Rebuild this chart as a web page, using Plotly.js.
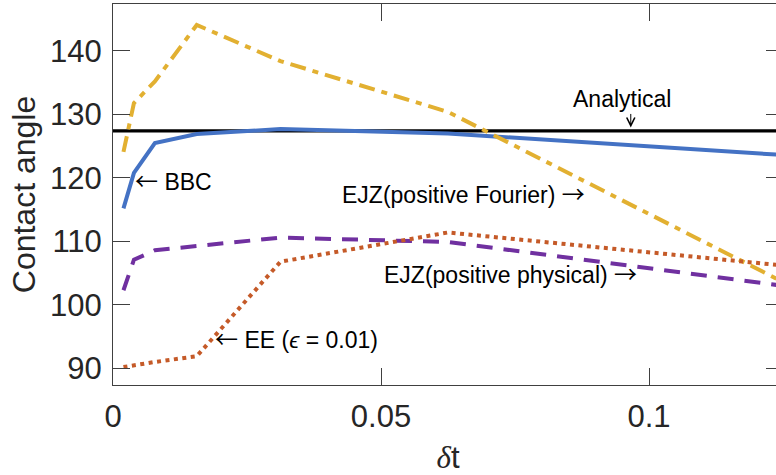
<!DOCTYPE html>
<html>
<head>
<meta charset="utf-8">
<script src="https://cdn.plot.ly/plotly-3.0.1.min.js"></script>
<style>
  html, body { margin: 0; padding: 0; overflow: hidden; background: #fff; }
  #chart { width: 790px; height: 475px; }
</style>
</head>
<body>
<div id="chart"></div>
<script>
// Time step sizes (halved each refinement)
const dt = [0.001953125, 0.00390625, 0.0078125, 0.015625, 0.03125, 0.0625, 0.125];

// Contact angle (degrees) for each scheme
const bbc         = [115.2, 120.8, 125.5, 126.9, 127.7, 127.0, 123.6];
const ejzFourier  = [124.1, 131.8, 135.2, 144.1, 138.4, 130.4, 103.6];
const ejzPhysical = [102.3, 107.1, 108.6, 109.3, 110.6, 109.9, 103.0];
const ee          = [90.2, 90.5, 91.0, 91.9, 106.8, 111.4, 106.2];

// Analytical reference angle, drawn across the whole dt range
const analyticalX = [0, 0.125];
const analyticalY = [127.4, 127.4];

const xTicks = [0, 0.05, 0.1];
const xTickText = ['0', '0.05', '0.1'];
const yTicks = [90, 100, 110, 120, 130, 140];
const yTickText = ['90', '100', '110', '120', '130', '140'];

const FONT = 'Liberation Sans, Arial, Helvetica, sans-serif';
const ARROW_FONT = "Noto Sans CJK JP, DejaVu Sans, sans-serif";
const AXIS_GREY = '#404040';
const TEXT_GREY = '#262626';

const traces = [
  { x: analyticalX, y: analyticalY, mode: 'lines', name: 'Analytical',
    line: { color: '#000000', width: 3.2 } },
  { x: dt, y: bbc, mode: 'lines', name: 'BBC',
    line: { color: '#4472C4', width: 4 } },
  { x: dt, y: ejzFourier, mode: 'lines', name: 'EJZ(positive Fourier)',
    line: { color: '#E2B031', width: 4, dash: '16px,7px,6px,7px' } },
  { x: dt, y: ejzPhysical, mode: 'lines', name: 'EJZ(positive physical)',
    line: { color: '#7030A0', width: 4, dash: '16px,11px' } },
  { x: dt, y: ee, mode: 'lines', name: 'EE',
    line: { color: '#C55A28', width: 4, dash: '4px,4.5px' } }
];

// thin arrow glyphs for the curve labels
function arrow(ch) {
  return '<span style="font-family:' + ARROW_FONT + '">' + ch + '</span>';
}

const noteFont = { family: FONT, size: 23, color: '#000000' };
function note(text, x, y, xanchor) {
  return { text: text, x: x, y: y, xref: 'paper', yref: 'paper',
           xanchor: xanchor, yanchor: 'middle', showarrow: false, font: noteFont };
}

const layout = {
  width: 790,
  height: 475,
  margin: { l: 113, r: 7, t: 4, b: 90 },
  paper_bgcolor: '#ffffff',
  plot_bgcolor: '#ffffff',
  showlegend: false,
  font: { family: FONT, color: TEXT_GREY },
  xaxis: {
    range: [0, 0.125],
    tickvals: xTicks, ticktext: xTickText,
    ticks: 'inside', ticklen: 17, tickwidth: 1, tickcolor: AXIS_GREY,
    showline: true, linecolor: AXIS_GREY, linewidth: 1, mirror: 'ticks',
    showgrid: false, zeroline: false,
    tickfont: { family: FONT, size: 31, color: TEXT_GREY },
    ticklabelstandoff: 4,
    title: { text: '<span style="font-family:Liberation Serif, serif"><i>δ</i></span>t',
             font: { family: FONT, size: 31, color: TEXT_GREY }, standoff: 19 }
  },
  yaxis: {
    range: [87.37, 147.4],
    tickvals: yTicks, ticktext: yTickText,
    ticks: 'inside', ticklen: 17, tickwidth: 1, tickcolor: AXIS_GREY,
    showline: true, linecolor: AXIS_GREY, linewidth: 1, mirror: 'ticks',
    showgrid: false, zeroline: false,
    tickfont: { family: FONT, size: 31, color: TEXT_GREY },
    ticklabelstandoff: 4,
    title: { text: 'Contact angle', font: { family: FONT, size: 32, color: TEXT_GREY }, standoff: 4 }
  },
  annotations: [
    note('Analytical', 0.7593, 0.7514, 'center'),
    // pointer from the "Analytical" label down to its line
    { text: '', x: 0.0966, y: analyticalY[0] + 0.55, xref: 'x', yref: 'y',
      showarrow: true, ax: 0, ay: -15, arrowhead: 5, arrowsize: 1.6,
      arrowwidth: 1, arrowcolor: '#000000', standoff: 0 },
    note(arrow('←') + ' BBC', 0.0300, 0.538, 'left'),
    note('EJZ(positive Fourier) ' + arrow('→'), 0.3388, 0.5052, 'left'),
    note('EJZ(positive physical) ' + arrow('→'), 0.4015, 0.2927, 'left'),
    note(arrow('←') + ' EE (<i>ϵ</i> = 0.01)', 0.1490, 0.1234, 'left')
  ]
};

Plotly.newPlot('chart', traces, layout, { staticPlot: true, displayModeBar: false });
</script>
</body>
</html>
